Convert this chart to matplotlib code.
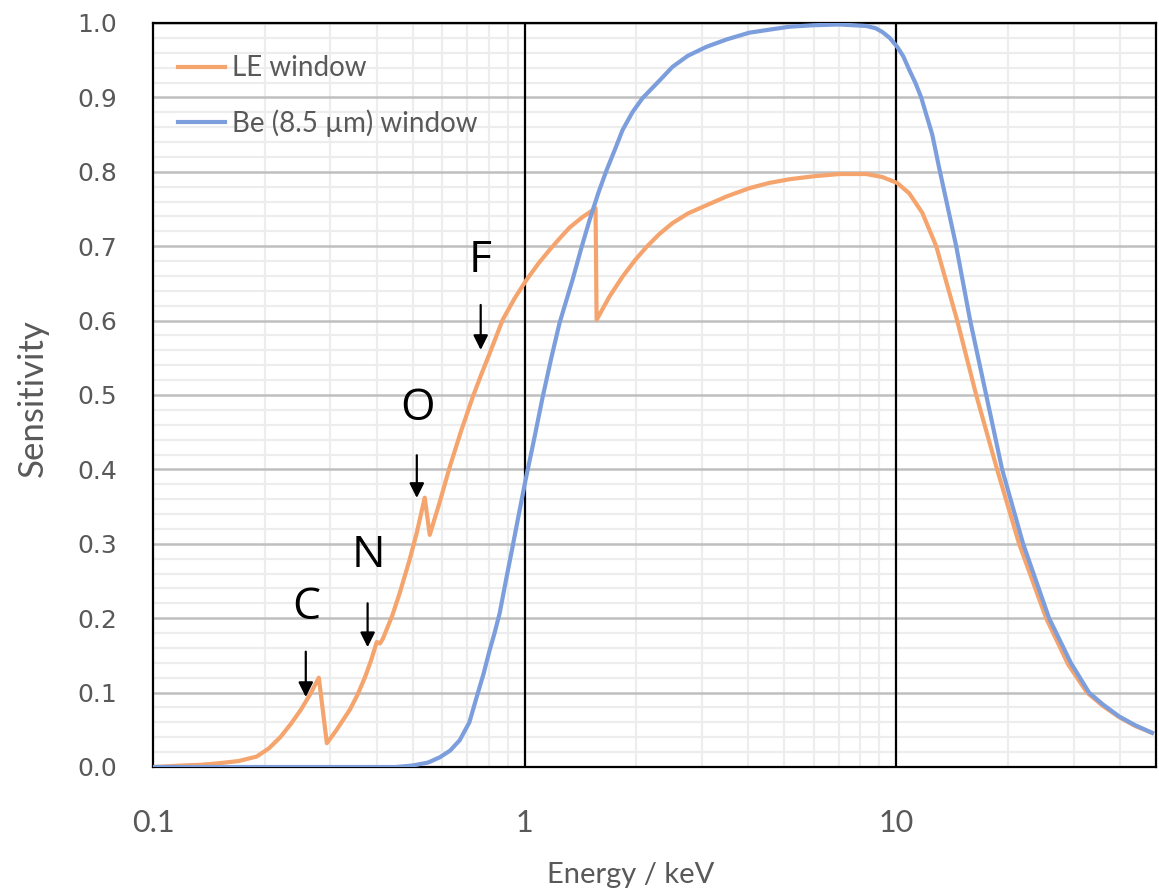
import matplotlib
matplotlib.use("Agg")
import matplotlib.pyplot as plt
from matplotlib.ticker import FixedLocator, MultipleLocator, NullFormatter

# ---------------- data ----------------
le_energy = [0.100, 0.110, 0.120, 0.135, 0.150, 0.170, 0.190, 0.205, 0.220, 0.235,
             0.250, 0.265, 0.2794, 0.2936, 0.310, 0.3386, 0.355, 0.3715, 0.386,
             0.4001, 0.4080, 0.4152, 0.440, 0.4613, 0.490, 0.5127, 0.5385, 0.5555,
             0.590, 0.6285, 0.675, 0.7247, 0.765, 0.8052, 0.8728, 0.940, 1.0125,
             1.090, 1.167, 1.240, 1.321, 1.430, 1.552, 1.562, 1.690, 1.834, 1.980,
             2.128, 2.300, 2.499, 2.750, 3.085, 3.500, 4.025, 4.550, 5.157, 6.000,
             7.028, 8.307, 9.170, 10.06, 10.84, 11.75, 12.81, 14.59, 16.41, 18.68,
             21.41, 25.31, 29.00, 32.61, 36.00, 39.78, 44.00, 48.77]
le_sens = [0.000, 0.001, 0.002, 0.003, 0.005, 0.008, 0.014, 0.025, 0.040, 0.058,
           0.077, 0.098, 0.120, 0.032, 0.048, 0.077, 0.097, 0.120, 0.143,
           0.168, 0.166, 0.172, 0.203, 0.234, 0.278, 0.315, 0.362, 0.312,
           0.355, 0.403, 0.452, 0.497, 0.528, 0.556, 0.601, 0.630, 0.655,
           0.677, 0.695, 0.710, 0.725, 0.739, 0.751, 0.601, 0.632, 0.659, 0.681,
           0.699, 0.716, 0.731, 0.744, 0.755, 0.767, 0.778, 0.785, 0.790, 0.794,
           0.797, 0.797, 0.793, 0.785, 0.771, 0.745, 0.700, 0.600, 0.500, 0.400,
           0.300, 0.200, 0.138, 0.100, 0.082, 0.067, 0.055, 0.046]

be_energy = [0.100, 0.300, 0.450, 0.500, 0.550, 0.591, 0.630, 0.6688, 0.710, 0.743,
             0.775, 0.8052, 0.830, 0.857, 0.890, 0.928, 0.965, 1.006, 1.060, 1.118,
             1.180, 1.242, 1.346, 1.420, 1.495, 1.580, 1.661, 1.750, 1.834, 1.950,
             2.076, 2.300, 2.499, 2.750, 3.085, 3.500, 4.025, 4.550, 5.157, 6.000,
             7.028, 8.307, 8.800, 9.170, 9.600, 10.06, 10.45, 10.84, 11.25, 11.67,
             12.50, 13.05, 14.50, 15.81, 17.46, 19.27, 21.95, 25.78, 29.50, 33.02,
             36.00, 39.78, 44.00, 48.77]
be_sens = [0.000, 0.000, 0.000, 0.002, 0.006, 0.013, 0.022, 0.036, 0.060, 0.094,
           0.125, 0.157, 0.180, 0.207, 0.250, 0.296, 0.340, 0.386, 0.440, 0.497,
           0.550, 0.597, 0.655, 0.697, 0.735, 0.772, 0.802, 0.830, 0.856, 0.880,
           0.899, 0.922, 0.941, 0.956, 0.968, 0.978, 0.987, 0.991, 0.995, 0.997,
           0.998, 0.996, 0.993, 0.988, 0.980, 0.968, 0.955, 0.937, 0.920, 0.900,
           0.850, 0.805, 0.700, 0.600, 0.500, 0.400, 0.300, 0.200, 0.140, 0.100,
           0.084, 0.068, 0.056, 0.046]

series_labels = ["LE window", "Be (8.5 µm) window"]
x_ticks = [0.1, 1, 10]
x_ticklabels = ["0.1", "1", "10"]
y_ticks = [0.0, 0.1, 0.2, 0.3, 0.4, 0.5, 0.6, 0.7, 0.8, 0.9, 1.0]

# absorption-edge annotations
edge_labels = ["C", "N", "O", "F"]
edge_text_x = [0.2577, 0.3807, 0.5158, 0.757]
edge_text_y = [0.214, 0.2836, 0.481, 0.680]
edge_arrow_x = [0.2577, 0.378, 0.5127, 0.7617]
edge_arrow_top = [0.155, 0.220, 0.419, 0.621]
edge_arrow_tip = [0.094, 0.161, 0.3616, 0.5605]

# ---------------- figure ----------------
plt.rcParams['font.family'] = ['Lato', 'DejaVu Sans']
TXT = '#595959'
fig = plt.figure(figsize=(11.59, 8.93), dpi=100)
ax = fig.add_axes([153/1159, 1-767/893, (1156-153)/1159, (767-23)/893])

ax.set_xscale('log')
ax.set_xlim(0.1, 50)
ax.set_ylim(0, 1.0)

# grid
ax.yaxis.set_major_locator(FixedLocator(y_ticks))
ax.yaxis.set_minor_locator(MultipleLocator(0.02))
ax.xaxis.set_major_locator(FixedLocator(x_ticks))
ax.xaxis.set_minor_locator(FixedLocator([m * d for d in (0.1, 1, 10) for m in range(2, 10) if m * d <= 50]))
ax.xaxis.set_minor_formatter(NullFormatter())
ax.grid(which='minor', color='#EDEDED', lw=1.6, zorder=0)
ax.grid(which='major', axis='y', color='#BFBFBF', lw=1.8, zorder=0.5)
for xv in (1, 10):
    ax.axvline(xv, color='black', lw=1.6, zorder=1)
ax.set_axisbelow(True)

l1, = ax.plot(le_energy, le_sens, color='#F4A46C', lw=3.0, zorder=3,
              solid_joinstyle='round', label=series_labels[0])
l2, = ax.plot(be_energy, be_sens, color='#7C9EDC', lw=3.0, zorder=4,
              solid_joinstyle='round', label=series_labels[1])

ax.set_xticks(x_ticks)
ax.set_xticklabels(x_ticklabels)
ax.set_yticks(y_ticks)
ax.set_yticklabels([f"{v:.1f}" for v in y_ticks])
ax.tick_params(axis='both', which='both', length=0)
ax.tick_params(axis='y', labelsize=18, labelcolor=TXT, pad=26)
ax.tick_params(axis='x', labelsize=22, labelcolor=TXT, pad=30)
for t in ax.get_yticklabels():
    t.set_fontfamily(['DejaVu Sans'])

for s in ax.spines.values():
    s.set_color('black')
    s.set_linewidth(1.6)

leg = ax.legend(handles=[l1, l2], loc='upper left', bbox_to_anchor=(0.0, 0.99),
                frameon=False, fontsize=20, labelcolor=TXT, handlelength=1.7,
                handletextpad=0.25, labelspacing=1.0, borderaxespad=0.5)

for lab, tx, ty, axx, atop, atip in zip(edge_labels, edge_text_x, edge_text_y,
                                        edge_arrow_x, edge_arrow_top, edge_arrow_tip):
    ax.text(tx, ty, lab, fontsize=32, color='black', ha='center', va='center', zorder=6,
            family=['Open Sans', 'DejaVu Sans'])
    ax.annotate('', xy=(axx, atip), xytext=(axx, atop),
                arrowprops=dict(arrowstyle='-|>', color='black', lw=1.6,
                                mutation_scale=22, shrinkA=0, shrinkB=0), zorder=6)

fig.text(631/1159, 1-875/893, 'Energy / keV', ha='center', va='center',
         fontsize=21, color=TXT)
fig.text(33/1159, 1-398/893, 'Sensitivity', ha='center', va='center', rotation=90,
         fontsize=25, color=TXT)

fig.savefig('out.png', dpi=100, facecolor='white')
